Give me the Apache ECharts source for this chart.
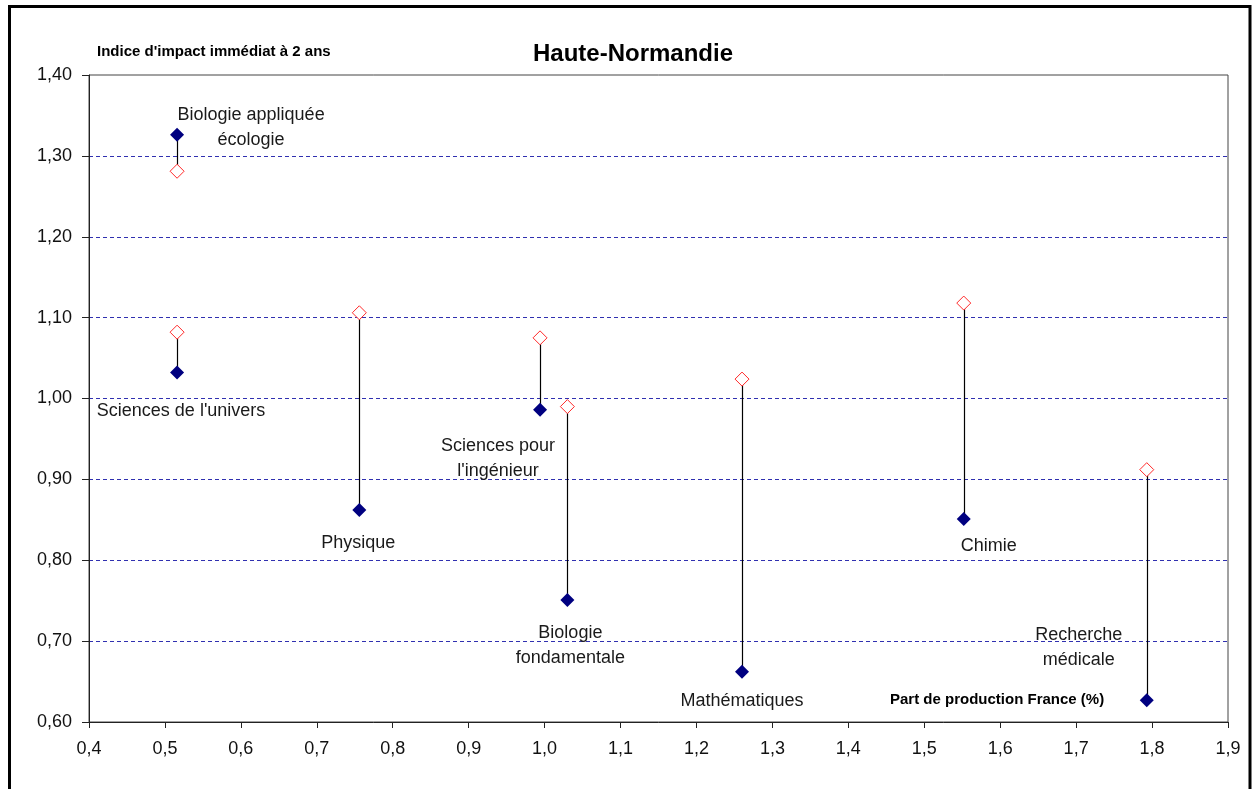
<!DOCTYPE html>
<html>
<head>
<meta charset="utf-8">
<script src="https://cdn.jsdelivr.net/npm/echarts@6/dist/echarts.min.js"></script>
<style>
  html, body { margin: 0; padding: 0; background: #fff; }
  #main { width: 1252px; height: 789px; }
</style>
</head>
<body>
<div id="main"></div>
<script>
// disciplines, share of French production (%) and impact index (2 yrs)
const disciplines = [
  'Biologie appliquée\nécologie',
  "Sciences de l'univers",
  'Physique',
  "Sciences pour\nl'ingénieur",
  'Biologie\nfondamentale',
  'Mathématiques',
  'Chimie',
  'Recherche\nmédicale'
];
const partProduction = [0.516, 0.516, 0.756, 0.994, 1.030, 1.260, 1.552, 1.793];
const impactRegion = [1.326, 1.032, 0.862, 0.986, 0.751, 0.662, 0.851, 0.627];
const impactOther = [1.281, 1.082, 1.106, 1.075, 0.990, 1.024, 1.118, 0.912];

// label placement relative to the dark marker (layout, not data)
const labelOffsets = [
  [74, -7], [4, 38], [-1, 33], [-42, 49], [3, 46], [0, 29], [25, 27], [-68, -53]
];

const FONT = "'Liberation Sans', Arial, sans-serif";
const chart = echarts.init(document.getElementById('main'));

const connectors = partProduction.map((x, i) => [x, impactRegion[i], impactOther[i]]);

chart.setOption({
  animation: false,
  backgroundColor: '#fff',
  title: {
    text: 'Haute-Normandie',
    left: 528,
    top: 37,
    textStyle: { fontFamily: FONT, fontSize: 24, fontWeight: 'bold', color: '#000' }
  },
  graphic: [
    {
      type: 'rect',
      shape: { x: 9.5, y: 6.5, width: 1240.5, height: 820 },
      style: { fill: 'none', stroke: '#000', lineWidth: 3 },
      silent: true
    },
    {
      type: 'text',
      left: 890,
      top: 692,
      style: {
        text: 'Part de production France (%)',
        font: 'bold 15px ' + FONT,
        fill: '#000'
      }
    }
  ],
  grid: {
    left: 89, right: 24, top: 75, bottom: 67,
    show: true,
    borderColor: '#444',
    borderWidth: 1
  },
  xAxis: {
    type: 'value',
    min: 0.4,
    max: 1.9,
    interval: 0.1,
    axisLine: { show: true, lineStyle: { color: '#222', width: 1 } },
    axisTick: { show: true, inside: false, length: 6, lineStyle: { color: '#222' } },
    axisLabel: {
      margin: 18,
      fontFamily: FONT,
      fontSize: 18,
      color: '#111',
      formatter: v => v.toFixed(1).replace('.', ',')
    },
    splitLine: { show: false }
  },
  yAxis: {
    type: 'value',
    min: 0.6,
    max: 1.4,
    interval: 0.1,
    name: "Indice d'impact immédiat à 2 ans",
    nameLocation: 'end',
    nameGap: 16,
    nameTextStyle: {
      fontFamily: FONT, fontSize: 15, fontWeight: 'bold', color: '#000',
      align: 'left', padding: [0, 0, 0, 8]
    },
    axisLine: { show: true, lineStyle: { color: '#222', width: 1 } },
    axisTick: { show: true, inside: false, length: 7, lineStyle: { color: '#222' } },
    axisLabel: {
      margin: 17,
      fontFamily: FONT,
      fontSize: 18,
      color: '#111',
      formatter: v => v.toFixed(2).replace('.', ',')
    },
    splitLine: {
      show: true,
      showMinLine: false,
      showMaxLine: false,
      lineStyle: { color: '#3030b0', width: 1, type: [4, 3] }
    }
  },
  series: [
    {
      type: 'custom',
      z: 1,
      silent: true,
      data: connectors,
      renderItem: (params, api) => {
        const a = api.coord([api.value(0), api.value(1)]);
        const b = api.coord([api.value(0), api.value(2)]);
        return {
          type: 'line',
          shape: { x1: Math.round(a[0]) + 0.5, y1: a[1], x2: Math.round(b[0]) + 0.5, y2: b[1] },
          style: { stroke: '#000', lineWidth: 1.2 }
        };
      }
    },
    {
      type: 'scatter',
      z: 3,
      symbol: 'diamond',
      symbolSize: [14, 14],
      itemStyle: { color: '#000080', borderColor: 'transparent', opacity: 1 },
      label: {
        show: true,
        position: 'inside',
        fontFamily: FONT,
        fontSize: 18,
        lineHeight: 25,
        align: 'center',
        color: '#1a1a1a',
        formatter: p => p.name
      },
      data: partProduction.map((x, i) => ({
        name: disciplines[i],
        value: [x, impactRegion[i]],
        label: { offset: labelOffsets[i] }
      }))
    },
    {
      type: 'scatter',
      z: 3,
      symbol: 'diamond',
      symbolSize: [14, 14],
      itemStyle: { color: '#fff', borderColor: '#ff2a2a', borderWidth: 1, opacity: 1 },
      data: partProduction.map((x, i) => [x, impactOther[i]])
    }
  ]
});
</script>
</body>
</html>
